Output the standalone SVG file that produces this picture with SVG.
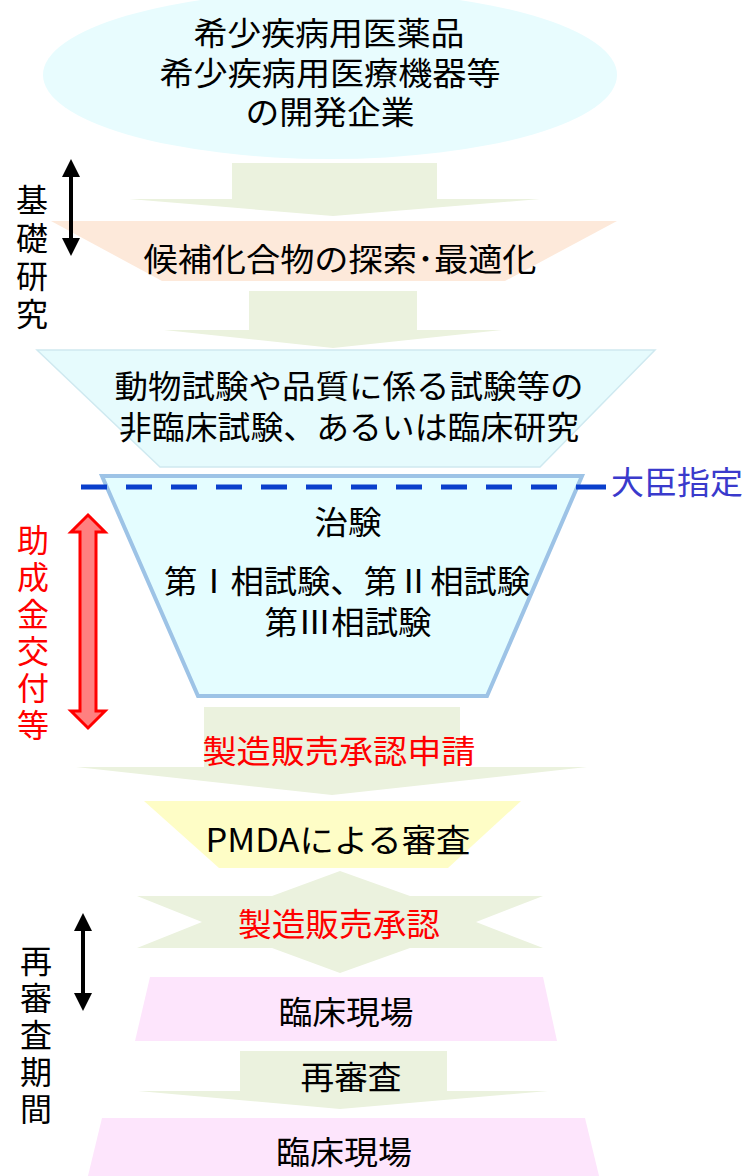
<svg xmlns="http://www.w3.org/2000/svg" width="747" height="1176" viewBox="0 0 747 1176">
<defs>
<style>
text{font-family:"Noto Sans CJK JP","Noto Sans",sans-serif;font-size:32px;fill:#000}
.c{text-anchor:middle}
.v{writing-mode:vertical-rl;text-anchor:start}
.red{fill:#ff0000}
.blue{fill:#3a3acc}
.garrow{fill:#ebf2de}
</style>
<marker id="ah" viewBox="0 0 10 10" refX="5" refY="5" markerWidth="4.5" markerHeight="4.5" orient="auto-start-reverse">
<path d="M0,0 L10,5 L0,10 z" fill="#000"/>
</marker>
</defs>
<rect width="747" height="1176" fill="#fff"/>

<g id="connectors">
<polygon class="garrow" points="232,163 437,163 437,199 540,199 333,216 129,199 232,199"/>
<polygon class="garrow" points="249,291 417,291 417,330 502,330 333,348 164,330 249,330"/>
<polygon class="garrow" points="204,707 460,707 460,767 587,767 332,795 76,767 204,767"/>
<text class="c red" x="339" y="763" textLength="273" lengthAdjust="spacingAndGlyphs">製造販売承認申請</text>
<polygon class="garrow" points="240,1051 447,1051 447,1091 548,1091 340,1109 138,1091 240,1091"/>
<text class="c" x="351" y="1089" textLength="101" lengthAdjust="spacingAndGlyphs">再審査</text>
</g>

<g id="company">
<ellipse cx="330" cy="75" rx="287" ry="84" fill="#e8fcfe"/>
<text class="c"><tspan x="329" y="45" textLength="271" lengthAdjust="spacingAndGlyphs">希少疾病用医薬品</tspan><tspan x="330" y="85" textLength="341" lengthAdjust="spacingAndGlyphs">希少疾病用医療機器等</tspan><tspan x="330" y="124" textLength="169" lengthAdjust="spacingAndGlyphs">の開発企業</tspan></text>
</g>

<g id="discovery">
<polygon points="51,221 617,221 505,281 162,281" fill="#fde9da"/>
<text class="c" x="340" y="271" textLength="393" lengthAdjust="spacingAndGlyphs">候補化合物の探索･最適化</text>
</g>

<g id="nonclinical">
<polygon points="37,350 655,350 540,467 160,467" fill="#e6fbfd" stroke="#cfe9f0" stroke-width="1.5"/>
<text class="c"><tspan x="349" y="398" textLength="469" lengthAdjust="spacingAndGlyphs">動物試験や品質に係る試験等の</tspan><tspan x="349" y="439" textLength="460" lengthAdjust="spacingAndGlyphs">非臨床試験、あるいは臨床研究</tspan></text>
</g>

<g id="clinical-trial">
<polygon points="102,476 582,476 487,696 198,696" fill="#e4fdff" stroke="#9dc3e6" stroke-width="4"/>
<text class="c"><tspan x="348" y="534" textLength="67" lengthAdjust="spacingAndGlyphs">治験</tspan><tspan x="347" y="593" textLength="366" lengthAdjust="spacingAndGlyphs">第Ⅰ相試験、第Ⅱ相試験</tspan><tspan x="348" y="634" textLength="167" lengthAdjust="spacingAndGlyphs">第Ⅲ相試験</tspan></text>
</g>

<g id="designation">
<line x1="81" y1="487" x2="581" y2="487" stroke="#0a3fcc" stroke-width="5" stroke-dasharray="26 19"/>
<line x1="581" y1="487" x2="606" y2="487" stroke="#0a3fcc" stroke-width="5"/>
<text class="blue" x="611" y="494" textLength="132" lengthAdjust="spacingAndGlyphs">大臣指定</text>
</g>

<g id="pmda-review">
<polygon points="144,801 521,801 448,868 219,868" fill="#fefdc6"/>
<text class="c" x="338" y="852" textLength="265" lengthAdjust="spacingAndGlyphs">PMDAによる審査</text>
</g>

<g id="approval">
<polygon points="340,871 410,896 543,896 476,922 543,948 410,948 340,973 272,948 137,948 202,922 137,896 272,896" fill="#ebf2de"/>
<text class="c red" x="339" y="936" textLength="202" lengthAdjust="spacingAndGlyphs">製造販売承認</text>
</g>

<g id="clinical-site-1">
<polygon points="150,977 543,977 557,1041 135,1041" fill="#fde5fc"/>
<text class="c" x="346" y="1024" textLength="135" lengthAdjust="spacingAndGlyphs">臨床現場</text>
</g>

<g id="clinical-site-2">
<polygon points="102,1118 585,1118 600,1180 87,1180" fill="#fde5fc"/>
<text class="c" x="344" y="1164" textLength="136" lengthAdjust="spacingAndGlyphs">臨床現場</text>
</g>

<g id="basic-research">
<line x1="71" y1="168" x2="71" y2="247" stroke="#000" stroke-width="4" marker-start="url(#ah)" marker-end="url(#ah)"/>
<text class="v" x="32" y="184" letter-spacing="6">基礎研究</text>
</g>

<g id="subsidy">
<polygon points="88,515 105,532 96,532 96,711 105,711 88,728 71,711 80,711 80,532 71,532" fill="#ff8080" stroke="#ff0000" stroke-width="3" stroke-linejoin="miter"/>
<text class="v red" x="33" y="524" letter-spacing="5">助成金交付等</text>
</g>

<g id="reexam-period">
<line x1="83" y1="922" x2="83" y2="1002" stroke="#000" stroke-width="4" marker-start="url(#ah)" marker-end="url(#ah)"/>
<text class="v" x="36" y="945" letter-spacing="5">再審査期間</text>
</g>
</svg>
